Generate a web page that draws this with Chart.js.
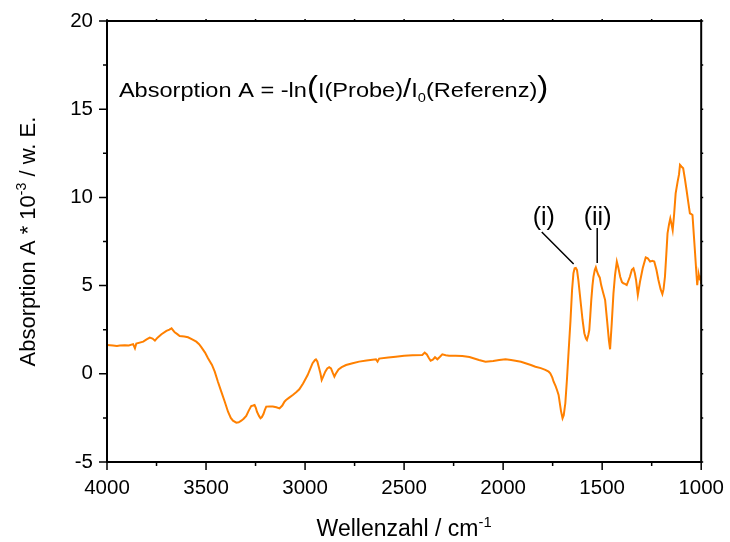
<!DOCTYPE html>
<html lang="de">
<head>
<meta charset="UTF-8">
<title>Absorption A - IR-Spektrum</title>
<script src="https://cdn.jsdelivr.net/npm/chart.js@4"></script>
<style>body{margin:0;background:#fff}</style>
</head>
<body>
<canvas id="myChart" width="730" height="542"></canvas>
<script>
const wavenumbers = [
  4000, 3970, 3950, 3935, 3910, 3890, 3868, 3859, 3852, 3817, 3800, 3784, 3770, 3758, 3745,
  3725, 3700, 3685, 3674, 3665, 3658, 3645, 3633, 3610, 3591, 3570, 3549, 3535, 3523, 3505,
  3490, 3470, 3456, 3440, 3423, 3405, 3389, 3375, 3364, 3347, 3335, 3322, 3310, 3297, 3285,
  3272, 3262, 3255, 3248, 3243, 3232, 3225, 3218, 3210, 3203, 3196, 3180, 3163, 3145, 3129,
  3115, 3104, 3096, 3080, 3062, 3045, 3029, 3010, 2987, 2975, 2962, 2950, 2945, 2938, 2931,
  2922, 2916, 2908, 2898, 2888, 2878, 2869, 2860, 2852, 2845, 2831, 2815, 2793, 2760, 2727,
  2690, 2642, 2634, 2626, 2580, 2542, 2500, 2458, 2408, 2396, 2385, 2375, 2366, 2355, 2344,
  2332, 2320, 2307, 2290, 2273, 2240, 2206, 2170, 2122, 2089, 2050, 2020, 1988, 1960, 1938,
  1910, 1887, 1860, 1837, 1810, 1787, 1770, 1762, 1752, 1745, 1735, 1728, 1720, 1715, 1708,
  1700, 1694, 1686, 1678, 1669, 1660, 1652, 1645, 1639, 1633, 1627, 1620, 1615, 1607, 1599,
  1590, 1582, 1577, 1570, 1565, 1560, 1555, 1549, 1544, 1537, 1532, 1526, 1519, 1512, 1505,
  1495, 1485, 1475, 1466, 1460, 1452, 1443, 1435, 1426, 1418, 1409, 1400, 1393, 1385, 1376,
  1360, 1350, 1342, 1335, 1329, 1320, 1309, 1295, 1280, 1270, 1258, 1247, 1237, 1226, 1216,
  1205, 1196, 1190, 1183, 1176, 1170, 1162, 1156, 1150, 1144, 1137, 1129, 1119, 1112, 1107,
  1100, 1091, 1083, 1074, 1065, 1057, 1050, 1044, 1038, 1032, 1026, 1020, 1016, 1012, 1008,
  1002, 1000
];
const absorption = [
  1.63, 1.60, 1.58, 1.60, 1.62, 1.60, 1.68, 1.45, 1.72, 1.82, 1.95, 2.05, 2.00, 1.88, 2.05,
  2.24, 2.43, 2.50, 2.58, 2.45, 2.35, 2.25, 2.14, 2.12, 2.07, 1.95, 1.82, 1.68, 1.50, 1.20,
  0.88, 0.50, 0.12, -0.45, -1.01, -1.60, -2.15, -2.50, -2.66, -2.77, -2.75, -2.66, -2.55, -2.39, -2.10,
  -1.83, -1.80, -1.77, -1.95, -2.15, -2.40, -2.52, -2.45, -2.28, -2.05, -1.86, -1.85, -1.86, -1.90, -1.96,
  -1.80, -1.58, -1.49, -1.35, -1.20, -1.05, -0.88, -0.55, -0.07, 0.25, 0.60, 0.78, 0.82, 0.70, 0.40,
  0.00, -0.35, -0.15, 0.12, 0.30, 0.37, 0.31, 0.05, -0.16, 0.00, 0.25, 0.38, 0.50, 0.60, 0.69,
  0.76, 0.82, 0.69, 0.86, 0.92, 0.97, 1.02, 1.05, 1.07, 1.20, 1.10, 0.90, 0.74, 0.80, 0.94,
  0.82, 0.95, 1.10, 1.05, 1.03, 1.03, 1.01, 0.95, 0.78, 0.69, 0.72, 0.78, 0.82, 0.78, 0.74,
  0.68, 0.60, 0.50, 0.40, 0.32, 0.22, 0.12, 0.03, -0.20, -0.45, -0.70, -0.92, -1.20, -1.58, -2.10,
  -2.52, -2.35, -1.67, -0.35, 1.35, 3.00, 4.75, 5.70, 5.98, 6.00, 5.88, 5.30, 4.75, 3.90, 3.05,
  2.30, 2.00, 1.92, 2.20, 2.48, 3.30, 4.18, 5.00, 5.50, 5.90, 6.04, 5.80, 5.60, 5.45, 5.03,
  4.60, 4.18, 3.00, 1.90, 1.39, 2.80, 4.56, 5.60, 6.36, 6.00, 5.50, 5.20, 5.13, 5.10, 5.03,
  5.50, 5.90, 5.98, 5.70, 5.32, 4.47, 5.22, 6.00, 6.60, 6.55, 6.36, 6.40, 6.36, 5.90, 5.32,
  4.80, 4.52, 4.80, 5.50, 6.80, 7.96, 8.50, 8.81, 8.50, 8.15, 9.00, 10.23, 10.89, 11.30, 11.84,
  11.75, 11.65, 11.10, 10.42, 9.70, 9.10, 9.05, 9.00, 8.00, 7.02, 6.00, 5.03, 5.50, 5.60, 5.40,
  5.50, 5.10
];

const xTicks = [4000, 3500, 3000, 2500, 2000, 1500, 1000];
const yTicks = [-5, 0, 5, 10, 15, 20];

// Markierte Banden (i) und (ii)
const peakLabels = ['(i)', '(ii)'];
const peakLabelX = [1795, 1523];
const peakLabelY = [8.85, 8.85];
const peakLineStart = [[1805, 8.04], [1525, 8.27]];
const peakLineEnd = [[1644, 6.22], [1525, 6.28]];

const FONT = '"Liberation Sans", Arial, Helvetica, sans-serif';

function drawPieces(ctx, pieces, x, y, size, sx, measureOnly) {
  let cx = 0;
  pieces.forEach(p => {
    ctx.font = (size * p.f) + 'px ' + FONT;
    const w = ctx.measureText(p.t).width * sx;
    if (!measureOnly) {
      ctx.save();
      ctx.translate(x + cx, y + (p.dy || 0));
      ctx.scale(sx, 1);
      ctx.fillText(p.t, 0, 0);
      ctx.restore();
    }
    cx += w;
  });
  return cx;
}

const decorations = {
  id: 'decorations',
  afterDraw(chart) {
    const ctx = chart.ctx;
    const xs = chart.scales.x, ys = chart.scales.y;
    const a = chart.chartArea;
    ctx.save();
    ctx.strokeStyle = '#000';
    ctx.fillStyle = '#000';

    // Rahmen
    ctx.lineWidth = 2;
    ctx.strokeRect(a.left, a.top, a.right - a.left, a.bottom - a.top);

    // Ticks
    ctx.lineWidth = 1.5;
    ctx.beginPath();
    for (let v = 1000; v <= 4000; v += 250) {
      const px = xs.getPixelForValue(v);
      const len = v % 500 === 0 ? 8 : 4;
      ctx.moveTo(px, a.bottom); ctx.lineTo(px, a.bottom + len);
      ctx.moveTo(px, a.top); ctx.lineTo(px, a.top - 2);
    }
    for (let v = -5; v <= 20; v += 2.5) {
      const py = ys.getPixelForValue(v);
      const len = v % 5 === 0 ? 8 : 4;
      ctx.moveTo(a.left, py); ctx.lineTo(a.left - len, py);
      ctx.moveTo(a.right, py); ctx.lineTo(a.right + 2, py);
    }
    ctx.stroke();

    // Achsentitel x
    ctx.textBaseline = 'alphabetic';
    const xt = [{t: 'Wellenzahl / cm', f: 1}, {t: '-1', f: 0.64, dy: -9}];
    const wx = drawPieces(ctx, xt, 0, 0, 23, 1, true);
    drawPieces(ctx, xt, (a.left + a.right) / 2 - wx / 2, 536, 23, 1, false);

    // Achsentitel y
    const yt = [{t: 'Absorption A * 10', f: 1}, {t: '-3', f: 0.64, dy: -9}, {t: ' / w. E.', f: 1}];
    const wy = drawPieces(ctx, yt, 0, 0, 22, 1, true);
    ctx.save();
    ctx.translate(35, (a.top + a.bottom) / 2);
    ctx.rotate(-Math.PI / 2);
    drawPieces(ctx, yt, -wy / 2, 0, 22, 1, false);
    ctx.restore();

    // Formel
    const formula = [
      {t: 'Absorption A = -ln', f: 1},
      {t: '(', f: 1.4},
      {t: 'I(Probe)', f: 1},
      {t: '/', f: 1.25},
      {t: 'I', f: 1},
      {t: '0', f: 0.62, dy: 5},
      {t: '(Referenz)', f: 1},
      {t: ')', f: 1.4}
    ];
    drawPieces(ctx, formula, xs.getPixelForValue(3940), ys.getPixelForValue(15.7), 20.5, 1.15, false);

    // Bandenbeschriftung
    ctx.font = '25px ' + FONT;
    ctx.textAlign = 'center';
    ctx.textBaseline = 'middle';
    peakLabels.forEach((lab, i) => {
      ctx.fillText(lab, xs.getPixelForValue(peakLabelX[i]), ys.getPixelForValue(peakLabelY[i]));
    });
    ctx.lineWidth = 1.5;
    ctx.beginPath();
    peakLineStart.forEach((s, i) => {
      const e = peakLineEnd[i];
      ctx.moveTo(xs.getPixelForValue(s[0]), ys.getPixelForValue(s[1]));
      ctx.lineTo(xs.getPixelForValue(e[0]), ys.getPixelForValue(e[1]));
    });
    ctx.stroke();
    ctx.restore();
  }
};

const ctx = document.getElementById('myChart').getContext('2d');
const myChart = new Chart(ctx, {
  type: 'line',
  data: {
    datasets: [{
      data: wavenumbers.map((w, i) => ({x: w, y: absorption[i]})),
      borderColor: '#ff8000',
      borderWidth: 2,
      pointRadius: 0,
      tension: 0,
      fill: false
    }]
  },
  options: {
    responsive: false,
    devicePixelRatio: 1,
    animation: false,
    layout: {padding: {top: 21, right: 27, left: 0, bottom: 0}},
    plugins: {legend: {display: false}, tooltip: {enabled: false}},
    scales: {
      x: {
        type: 'linear',
        reverse: true,
        min: 1000,
        max: 4000,
        afterBuildTicks: s => { s.ticks = xTicks.map(v => ({value: v})); },
        afterFit: s => { s.height = 80; },
        grid: {display: false},
        border: {display: false},
        ticks: {
          color: '#000', font: {size: 20.5, family: FONT}, padding: 6, maxRotation: 0, autoSkip: false,
          callback: v => String(v)
        }
      },
      y: {
        min: -5,
        max: 20,
        afterBuildTicks: s => { s.ticks = yTicks.map(v => ({value: v})); },
        afterFit: s => { s.width = 107; },
        grid: {display: false},
        border: {display: false},
        ticks: {color: '#000', font: {size: 20.5, family: FONT}, padding: 6, callback: v => String(v)}
      }
    }
  },
  plugins: [decorations]
});
</script>
</body>
</html>
